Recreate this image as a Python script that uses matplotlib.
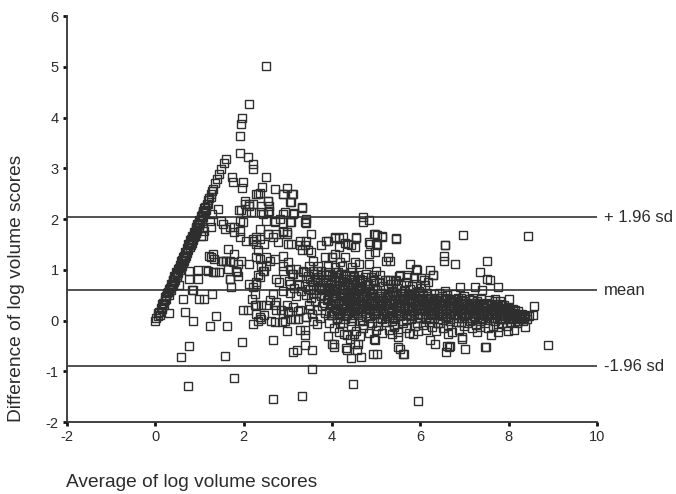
import matplotlib
matplotlib.use("Agg")
import matplotlib.pyplot as plt

# ---------------- data ----------------
# streak of points where one score is zero (difference ~ 2 x average)
streak_x = [0.00, 0.02, 0.05, 0.07, 0.09, 0.12, 0.14, 0.16, 0.18, 0.21, 0.23, 0.25, 0.27, 0.29,
            0.31, 0.33, 0.35, 0.37, 0.39, 0.41, 0.43, 0.45, 0.47, 0.49, 0.51, 0.53, 0.55, 0.57,
            0.59, 0.61, 0.63, 0.65, 0.67, 0.69, 0.71, 0.73, 0.75, 0.77, 0.79, 0.81, 0.83, 0.85,
            0.87, 0.89, 0.91, 0.93, 0.95, 0.97, 0.99, 1.01, 1.03, 1.05, 1.07, 1.09, 1.11, 1.13,
            1.16, 1.19, 1.22, 1.25, 1.28, 1.31, 1.35, 1.39, 1.44, 1.49, 1.55, 1.60,
            0.10, 0.20, 0.30, 0.35, 0.40, 0.45, 0.50, 0.55, 0.60, 0.65, 0.70, 0.75, 0.80, 0.85,
            0.90, 0.95, 1.00, 1.05, 1.15,
            0.15, 0.25, 0.32, 0.38, 0.42, 0.48, 0.52, 0.58, 0.62, 0.68, 0.72, 0.78, 0.82, 0.88,
            0.92, 0.98, 1.02, 1.08, 1.12, 1.20, 1.26]
streak_y = [0.00, 0.05, 0.08, 0.15, 0.16, 0.25, 0.26, 0.33, 0.35, 0.40, 0.47, 0.48, 0.55, 0.56,
            0.63, 0.64, 0.71, 0.72, 0.79, 0.80, 0.87, 0.88, 0.95, 0.96, 1.02, 1.03, 1.10, 1.12,
            1.18, 1.20, 1.26, 1.27, 1.34, 1.35, 1.42, 1.43, 1.50, 1.51, 1.58, 1.60, 1.66, 1.67,
            1.74, 1.75, 1.82, 1.84, 1.90, 1.91, 1.98, 1.99, 2.06, 2.07, 2.14, 2.15, 2.22, 2.23,
            2.30, 2.38, 2.42, 2.50, 2.56, 2.60, 2.70, 2.78, 2.88, 2.99, 3.10, 3.18,
            0.10, 0.30, 0.50, 0.60, 0.70, 0.80, 0.90, 1.00, 1.08, 1.18, 1.28, 1.38, 1.48, 1.58,
            1.70, 1.78, 1.88, 1.97, 2.18,
            0.22, 0.42, 0.56, 0.68, 0.75, 0.86, 0.94, 1.05, 1.14, 1.24, 1.33, 1.44, 1.52, 1.64,
            1.72, 1.84, 1.92, 2.04, 2.12, 2.30, 2.44]

# scattered points above the mean line (left / upper triangle)
upper_x = [1.75, 1.91, 1.94, 1.97, 2.11, 2.51, 1.92, 2.09, 2.21, 2.21, 2.51, 1.73, 1.98, 1.97,
           2.28, 2.36, 2.42, 2.56, 2.70, 2.97, 2.89, 3.10, 3.06, 3.31, 2.04, 2.13, 2.17, 1.89,
           1.41, 1.29, 1.23, 1.04, 1.11, 1.92, 2.43, 2.57, 2.89, 3.12, 3.42, 3.41, 2.70, 3.06,
           2.51, 2.02, 1.09, 2.32, 2.55, 2.57, 2.40, 2.89, 3.07, 3.12, 3.31, 2.40, 2.55, 2.93,
           3.15, 2.70, 2.82, 3.08, 3.38, 4.70, 4.70, 4.84]
upper_y = [2.72, 3.64, 3.87, 3.99, 4.26, 5.02, 3.30, 3.23, 3.08, 2.98, 2.83, 2.82, 2.72, 2.62,
           2.49, 2.51, 2.64, 2.36, 2.59, 2.61, 2.49, 2.49, 2.33, 2.22, 2.36, 2.30, 2.13, 2.17,
           2.20, 2.10, 1.97, 1.67, 1.77, 1.97, 2.10, 2.16, 2.10, 2.10, 2.00, 1.93, 1.94, 1.94,
           1.97, 2.30, 1.84, 2.49, 2.36, 2.26, 2.26, 2.49, 2.33, 2.49, 2.23, 2.13, 2.13, 2.13,
           2.11, 1.97, 2.00, 1.94, 1.94, 2.03, 1.94, 1.98]

# scattered points between about 0.6 and 1.9
mid_x = [1.49, 1.26, 1.07, 1.53, 1.57, 1.68, 1.79, 1.91, 2.06, 2.21, 1.98, 2.06, 2.13, 2.21,
         1.94, 1.64, 1.79, 1.30, 1.26, 1.33, 1.53, 1.60, 1.75, 1.87, 1.94, 2.13, 2.28, 0.77,
         0.96, 0.96, 0.77, 1.19, 1.34, 1.45, 1.68, 1.64, 1.83, 1.87, 0.54, 0.83, 1.15, 1.30,
         1.72, 1.68, 1.85, 2.21, 2.28, 2.11, 1.49, 1.60, 1.68, 1.21,
         2.36, 2.55, 2.66, 2.77, 2.89, 2.97, 3.00, 3.08, 2.28, 2.28, 2.47, 2.32, 2.36, 2.51,
         2.59, 2.40, 2.47, 2.32, 2.70, 2.89, 3.00, 2.89, 3.27, 3.42, 3.27, 3.38, 3.31, 3.46,
         3.53, 3.56, 3.76, 3.87, 4.06, 4.25, 4.36, 4.52, 4.55, 4.06, 3.99, 4.29, 4.17, 4.52,
         4.86, 4.94, 3.84, 3.68, 3.91, 4.06, 4.97, 5.14, 5.46, 6.96, 5.00, 4.97, 5.27, 5.31,
         5.23, 6.56, 6.54, 6.54, 6.78, 7.50, 7.35, 7.52, 5.76, 5.92, 6.23, 6.28, 6.18, 6.01,
         5.85, 5.70, 5.51, 5.00, 5.08, 4.93, 5.27, 5.46, 6.90, 7.24, 7.39, 6.56, 8.43, 7.58,
         7.75, 7.69, 8.00, 4.06, 4.15, 4.55, 5.01, 5.14, 5.46, 6.56, 4.84, 5.01, 4.29, 4.44,
         1.92, 1.77, 2.55, 2.74, 2.89, 2.97, 3.53, 3.91, 2.36, 2.21,
         2.43, 2.51, 2.28, 2.36, 2.74, 2.81, 2.89, 3.04, 3.12, 3.19, 3.34, 3.49, 2.89, 3.04,
         4.84, 4.61, 4.46, 4.23, 4.00, 4.15, 4.84, 5.55, 5.32, 5.70, 6.08, 6.29, 5.91, 8.58]
mid_y = [1.97, 1.84, 1.67, 1.90, 1.80, 1.84, 1.74, 1.64, 1.57, 1.57, 1.94, 2.13, 2.26, 2.29,
         2.17, 1.41, 1.31, 1.31, 1.25, 1.22, 1.18, 1.17, 1.15, 1.12, 1.18, 1.12, 1.25, 0.98,
         1.00, 0.82, 0.82, 0.98, 0.96, 0.95, 0.82, 1.02, 0.98, 0.88, 0.69, 0.61, 1.00, 0.95,
         0.66, 0.82, 0.95, 0.66, 0.75, 0.72, 1.17, 1.17, 1.17, 1.28,
         1.80, 1.71, 1.64, 1.54, 1.74, 1.71, 1.51, 1.51, 1.64, 1.51, 1.51, 1.38, 1.21, 1.25,
         1.18, 1.08, 0.98, 0.89, 1.21, 1.28, 1.15, 1.08, 1.57, 1.57, 1.48, 1.48, 1.38, 1.38,
         1.35, 1.18, 1.48, 1.57, 1.64, 1.64, 1.51, 1.44, 1.64, 1.31, 1.25, 1.25, 1.15, 1.15,
         1.51, 1.71, 1.25, 1.08, 1.08, 1.05, 1.71, 1.67, 1.62, 1.69, 1.51, 1.34, 1.25, 1.18,
         1.18, 1.49, 1.28, 1.18, 1.12, 1.17, 0.95, 0.82, 1.12, 1.00, 1.00, 0.90, 0.75, 0.83,
         0.83, 0.89, 0.87, 0.98, 0.89, 0.80, 0.80, 0.80, 0.66, 0.66, 0.61, 0.59, 1.67, 0.79,
         0.66, 0.43, 0.43, 1.63, 1.63, 1.63, 1.69, 1.65, 1.61, 1.48, 1.54, 1.48, 1.53, 1.49,
         1.77, 1.84, 1.71, 1.71, 1.77, 1.74, 1.71, 1.57, 1.61, 1.61,
         0.98, 1.08, 0.72, 0.85, 0.82, 0.75, 0.59, 0.72, 0.92, 1.02, 0.98, 1.08, 0.98, 1.02,
         1.12, 1.12, 1.05, 1.08, 1.25, 1.44, 1.31, 0.90, 0.80, 0.86, 0.80, 0.90, 1.02, 0.29]

# scattered points below the mean line and outliers
low_x = [0.62, 1.00, 1.11, 1.29, 0.32, 0.68, 0.86, 1.23, 1.38, 1.63, 0.77, 0.58, 1.57, 1.96,
         1.78, 0.74, 1.98, 2.10, 2.21, 2.25, 2.28, 2.19, 2.25, 2.66, 2.99, 3.12, 3.21, 3.38,
         3.55, 3.27, 3.39, 3.38, 3.55, 4.48, 4.05, 4.04, 3.91, 4.27, 4.35, 4.44, 4.65, 4.58,
         4.93, 4.57, 4.40, 4.49, 2.32, 2.40, 2.47, 2.72, 2.86, 3.00, 3.08, 3.17, 3.23, 3.40,
         3.56, 3.66, 2.59, 2.70, 2.85, 3.00, 2.40, 2.29, 2.66, 3.31, 2.66, 2.74, 2.97, 3.12,
         3.27, 3.42, 2.74, 2.89, 2.51, 2.36, 2.62, 2.93, 3.23, 5.95, 8.88, 7.48, 7.01, 6.60,
         6.57, 6.68, 5.63, 5.55, 5.35, 4.32, 4.00, 4.51, 4.94, 4.64, 6.22, 6.33, 6.95, 7.28,
         8.11, 7.98, 7.76, 7.61, 8.37, 8.41, 8.55, 7.81, 4.97, 5.01, 5.50, 5.61, 6.65, 7.47,
         6.94, 6.63, 5.50, 5.84, 0.85]
low_y = [0.43, 0.43, 0.43, 0.53, 0.14, 0.16, 0.00, -0.11, 0.08, -0.11, -0.51, -0.72, -0.69, -0.43,
         -1.14, -1.30, 0.21, 0.21, -0.07, 0.30, 0.12, 0.43, 0.53, -0.38, -0.21, -0.63, -0.59, -0.48,
         -0.59, -0.18, -0.18, -0.28, -0.95, -1.25, -0.46, -0.52, -0.30, -0.26, -0.58, -0.74, -0.72, -0.47,
         -0.66, -0.59, -0.36, -0.26, 0.00, 0.03, 0.10, -0.03, -0.03, 0.16, 0.03, 0.03, 0.18, 0.07,
         -0.01, -0.06, 0.41, 0.30, 0.20, 0.18, 0.31, 0.30, -1.54, -1.49, 0.53, 0.36, 0.30, 0.26,
         0.20, 0.07, 0.20, 0.13, 0.30, 0.07, 0.00, 0.00, 0.03, -1.59, -0.48, -0.52, -0.56, -0.51,
         -0.62, -0.51, -0.66, -0.57, -0.26, -0.54, -0.47, -0.46, -0.36, -0.31, -0.39, -0.46, -0.36, -0.22,
         -0.18, -0.20, -0.22, -0.29, -0.12, 0.08, 0.10, 0.39, -0.39, -0.66, -0.52, -0.66, -0.52, -0.52,
         -0.33, -0.26, -0.33, -0.26, 0.60]

# dense cloud, split in bands of the average score
band_a_x = [3.42, 3.45, 3.47, 3.50, 3.52, 3.55, 3.57, 3.60, 3.62, 3.64, 3.66, 3.68, 3.70, 3.72,
            3.74, 3.76, 3.78, 3.80, 3.82, 3.84, 3.86, 3.88, 3.90, 3.92, 3.94, 3.96, 3.98, 3.50,
            3.58, 3.66, 3.74, 3.82, 3.90, 3.98, 3.95]
band_a_y = [0.95, 0.62, 0.30, 0.81, 0.45, 0.12, 0.70, 0.92, 0.38, 0.55, 0.20, 0.85, 0.66, 0.05,
            0.48, 0.98, 0.28, 0.75, 0.60, 0.15, 0.90, 0.40, 0.52, 0.82, -0.05, 0.70, 0.33, 0.22,
            0.98, 0.80, 0.62, 0.35, 0.96, 0.10, 0.58]

band_b_x = [4.01, 4.02, 4.04, 4.05, 4.07, 4.08, 4.10, 4.11, 4.13, 4.14, 4.16, 4.18, 4.19, 4.21,
            4.22, 4.24, 4.26, 4.27, 4.29, 4.30, 4.32, 4.34, 4.35, 4.37, 4.38, 4.40, 4.42, 4.43,
            4.45, 4.46, 4.48, 4.50, 4.51, 4.53, 4.55, 4.56, 4.58, 4.60, 4.61, 4.63, 4.65, 4.66,
            4.68, 4.70, 4.71, 4.73, 4.75, 4.76, 4.78, 4.80, 4.81, 4.83, 4.85, 4.86, 4.88, 4.90,
            4.91, 4.93, 4.95, 4.96, 4.98, 4.99, 4.05, 4.12, 4.20, 4.28, 4.36, 4.44, 4.52, 4.60,
            4.68, 4.76, 4.84, 4.92, 4.15, 4.33, 4.47, 4.64, 4.79, 4.94]
band_b_y = [0.88, 0.45, -0.15, 0.65, 0.25, 0.95, 0.55, 0.05, 0.78, 0.35, -0.22, 0.68, 0.15, 0.92,
            0.48, -0.05, 0.82, 0.30, 0.60, 0.02, 0.88, 0.40, -0.28, 0.72, 0.20, 0.52, 0.95, -0.10,
            0.65, 0.32, 0.85, 0.10, 0.45, 0.75, -0.20, 0.58, 0.25, 0.90, 0.38, 0.00, 0.68, 0.18,
            0.80, 0.50, -0.15, 0.30, 0.62, 0.92, 0.08, 0.42, 0.72, -0.25, 0.55, 0.22, 0.85, 0.35,
            -0.05, 0.65, 0.15, 0.78, 0.45, -0.18, 0.15, 0.62, 0.38, 0.75, 0.55, 0.18, 0.28, 0.60,
            0.35, 0.48, 0.05, 0.52, 0.85, 0.10, 0.70, 0.82, 0.25, 0.90]

band_c_x = [5.01, 5.03, 5.04, 5.06, 5.08, 5.09, 5.11, 5.13, 5.14, 5.16, 5.18, 5.19, 5.21, 5.23,
            5.24, 5.26, 5.28, 5.29, 5.31, 5.33, 5.35, 5.36, 5.38, 5.40, 5.41, 5.43, 5.45, 5.46,
            5.48, 5.50, 5.51, 5.53, 5.55, 5.56, 5.58, 5.60, 5.62, 5.63, 5.65, 5.67, 5.68, 5.70,
            5.72, 5.73, 5.75, 5.77, 5.78, 5.80, 5.82, 5.83, 5.85, 5.87, 5.88, 5.90, 5.92, 5.93,
            5.95, 5.97, 5.98, 6.00, 6.02, 6.03, 6.05, 6.07, 6.08, 6.10, 6.12, 6.13, 6.15, 6.17,
            6.18, 6.20, 5.10, 5.25, 5.39, 5.52, 5.66, 5.79, 5.94, 6.06]
band_c_y = [0.60, 0.20, -0.10, 0.75, 0.40, 0.05, 0.55, 0.28, -0.25, 0.68, 0.12, 0.45, 0.80, -0.02,
            0.35, 0.62, 0.18, -0.18, 0.50, 0.72, 0.25, 0.00, 0.58, 0.38, -0.12, 0.78, 0.15, 0.48,
            0.65, -0.22, 0.30, 0.55, 0.08, 0.70, 0.42, -0.05, 0.22, 0.60, 0.35, -0.15, 0.75, 0.10,
            0.50, 0.28, -0.25, 0.62, 0.40, 0.02, 0.68, 0.18, 0.52, -0.10, 0.33, 0.72, 0.12, 0.45,
            -0.20, 0.58, 0.25, 0.05, 0.65, 0.38, -0.08, 0.50, 0.20, 0.70, -0.18, 0.30, 0.55, 0.10,
            0.42, -0.02, 0.32, 0.48, 0.10, 0.40, 0.58, 0.28, 0.30, 0.32]

band_d_x = [6.22, 6.24, 6.26, 6.28, 6.30, 6.32, 6.34, 6.36, 6.38, 6.40, 6.42, 6.44, 6.46, 6.48,
            6.50, 6.52, 6.54, 6.56, 6.58, 6.60, 6.62, 6.64, 6.66, 6.68, 6.70, 6.72, 6.74, 6.76,
            6.78, 6.80, 6.82, 6.84, 6.86, 6.88, 6.90, 6.92, 6.94, 6.96, 6.98, 7.00, 7.02, 7.04,
            7.06, 7.08, 7.10, 7.12, 7.14, 7.16, 7.18, 7.20, 7.22, 7.24, 7.26, 7.28, 7.30, 7.32,
            7.34, 7.36, 7.38, 7.40, 7.42, 7.44, 7.46, 7.48, 7.50, 7.52, 7.54, 7.56, 7.58, 6.35,
            6.65, 6.95, 7.25]
band_d_y = [0.45, 0.15, -0.12, 0.32, 0.52, 0.05, 0.25, -0.20, 0.40, 0.12, 0.55, -0.05, 0.30, 0.18,
            0.48, -0.15, 0.35, 0.08, 0.22, 0.50, -0.08, 0.28, 0.42, 0.02, 0.15, -0.22, 0.38, 0.25,
            0.52, -0.02, 0.32, 0.10, 0.45, -0.18, 0.20, 0.38, 0.05, 0.28, -0.10, 0.48, 0.15, 0.35,
            -0.05, 0.22, 0.42, 0.00, 0.30, -0.15, 0.18, 0.45, 0.08, 0.25, -0.08, 0.38, 0.12, 0.32,
            -0.12, 0.20, 0.42, 0.02, 0.28, 0.15, -0.05, 0.35, 0.10, 0.25, -0.15, 0.40, 0.18, 0.38,
            0.18, 0.40, 0.15]

band_e_x = [7.60, 7.62, 7.64, 7.66, 7.68, 7.70, 7.72, 7.74, 7.76, 7.78, 7.80, 7.82, 7.84, 7.86,
            7.88, 7.90, 7.92, 7.94, 7.96, 7.98, 8.00, 8.03, 8.06, 8.09, 8.12, 8.15, 8.18, 8.21,
            8.24, 8.27, 8.30, 8.34, 8.38, 8.42, 8.46]
band_e_y = [0.05, 0.30, -0.10, 0.20, 0.38, 0.00, 0.15, 0.28, -0.12, 0.10, 0.32, 0.05, 0.22, -0.05,
            0.15, 0.30, 0.02, 0.18, -0.10, 0.25, 0.08, 0.15, -0.02, 0.22, 0.05, 0.12, -0.05, 0.18,
            0.08, 0.02, 0.12, 0.05, 0.10, 0.02, 0.08]

# the darkest core of the cloud
core_1_x = [3.91, 3.93, 3.95, 3.97, 3.99, 4.01, 4.03, 4.06, 4.08, 4.10, 4.12, 4.14, 4.17, 4.19,
            4.21, 4.23, 4.25, 4.28, 4.30, 4.32, 4.34, 4.36, 4.39, 4.41, 4.43, 4.45, 4.47, 4.50,
            4.52, 4.54, 4.56, 4.58, 4.61, 4.63, 4.65, 4.67, 4.69, 4.72, 4.74, 4.76, 4.78, 4.80,
            4.83, 4.85, 4.87, 4.89, 4.91, 4.94, 4.96, 4.98]
core_1_y = [0.42, 0.18, 0.62, 0.30, 0.50, 0.10, 0.38, 0.58, 0.22, 0.45, 0.02, 0.32, 0.52, 0.12,
            0.40, 0.65, 0.25, 0.48, 0.08, 0.35, 0.55, 0.15, 0.42, 0.28, 0.60, 0.05, 0.38, 0.50,
            0.18, 0.30, 0.62, 0.10, 0.45, 0.22, 0.55, 0.35, 0.00, 0.48, 0.15, 0.28, 0.58, 0.38,
            0.20, 0.45, 0.08, 0.32, 0.52, 0.25, 0.40, 0.12]

core_2_x = [5.02, 5.04, 5.06, 5.09, 5.11, 5.13, 5.15, 5.17, 5.20, 5.22, 5.24, 5.26, 5.28, 5.31,
            5.33, 5.35, 5.37, 5.39, 5.42, 5.44, 5.46, 5.48, 5.50, 5.53, 5.55, 5.57, 5.59, 5.61,
            5.64, 5.66, 5.68, 5.70, 5.72, 5.75, 5.77, 5.79, 5.81, 5.83, 5.86, 5.88, 5.90, 5.92,
            5.94, 5.97, 5.99, 6.01, 6.03, 6.05, 6.08, 6.10, 6.12, 6.14, 6.16, 6.18, 6.19]
core_2_y = [0.35, 0.12, 0.48, 0.25, 0.55, 0.02, 0.38, 0.18, 0.45, 0.30, 0.08, 0.52, 0.22, 0.40,
            0.15, 0.58, 0.32, 0.05, 0.42, 0.20, 0.50, 0.28, 0.10, 0.45, 0.35, 0.18, 0.55, 0.00,
            0.30, 0.48, 0.12, 0.38, 0.25, 0.52, 0.08, 0.42, 0.20, 0.35, 0.15, 0.48, 0.28, 0.05,
            0.40, 0.22, 0.55, 0.32, 0.12, 0.45, 0.25, 0.38, 0.02, 0.30, 0.48, 0.18, 0.35]

core_3_x = [6.21, 6.23, 6.25, 6.28, 6.30, 6.32, 6.34, 6.37, 6.39, 6.41, 6.43, 6.46, 6.48, 6.50,
            6.52, 6.55, 6.57, 6.59, 6.61, 6.64, 6.66, 6.68, 6.70, 6.73, 6.75, 6.77, 6.79, 6.82,
            6.84, 6.86, 6.88, 6.91, 6.93, 6.95, 6.97, 7.00, 7.02, 7.04, 7.06, 7.09, 7.11, 7.13,
            7.15, 7.18, 7.20, 7.22, 7.24, 7.27, 7.29, 7.31, 7.33, 7.36, 7.38, 7.40, 7.43]
core_3_y = [0.28, 0.05, 0.38, 0.18, 0.42, 0.10, 0.32, 0.22, 0.45, 0.02, 0.35, 0.15, 0.25, 0.40,
            0.08, 0.30, 0.20, 0.45, 0.12, 0.35, 0.25, 0.00, 0.40, 0.18, 0.30, 0.10, 0.42, 0.22,
            0.35, 0.05, 0.28, 0.15, 0.45, 0.22, 0.32, 0.08, 0.38, 0.20, 0.28, 0.12, 0.35, 0.05,
            0.25, 0.40, 0.15, 0.30, 0.02, 0.22, 0.35, 0.10, 0.28, 0.18, 0.05, 0.30, 0.20]

core_4_x = [7.45, 7.48, 7.51, 7.54, 7.57, 7.60, 7.63, 7.66, 7.69, 7.72, 7.75, 7.78, 7.81, 7.84,
            7.87, 7.90, 7.93, 7.96, 7.99, 8.02, 8.05, 8.08, 8.11, 8.14, 8.17, 8.20, 8.23, 8.26,
            8.29, 8.32, 8.35, 7.70, 7.85, 8.00, 8.15]
core_4_y = [0.25, 0.08, 0.32, 0.15, 0.22, 0.12, 0.20, 0.05, 0.28, 0.10, 0.18, 0.25, 0.02, 0.15,
            0.22, 0.08, 0.18, 0.12, 0.05, 0.20, 0.10, 0.02, 0.15, 0.08, 0.12, 0.00, 0.10, 0.05,
            0.08, 0.00, 0.06, 0.32, 0.30, 0.25, 0.20]

core_5_x = [3.02, 3.06, 3.10, 3.14, 3.18, 3.22, 3.26, 3.30, 3.34, 3.38, 3.42, 3.46, 3.50, 3.54,
            3.58, 3.62, 3.66, 3.70, 3.74, 3.78, 3.82, 3.86, 3.90, 3.94, 3.98, 4.02, 4.06, 4.10,
            4.14, 4.18, 4.22, 4.26, 4.30, 4.34, 4.38, 4.42, 4.46, 4.50, 4.56, 4.62, 4.68, 4.74,
            4.80, 4.86, 4.92]
core_5_y = [0.78, 0.55, 0.92, 0.65, 0.48, 0.85, 0.72, 0.58, 0.95, 0.68, 0.50, 0.88, 0.62, 0.75,
            0.52, 0.82, 0.98, 0.60, 0.90, 0.70, 0.50, 0.80, 0.65, 0.92, 0.75, 0.58, 0.85, 0.70,
            0.95, 0.55, 0.78, 0.62, 0.90, 0.68, 0.82, 0.56, 0.72, 0.88, 0.66, 0.78, 0.58, 0.85,
            0.70, 0.62, 0.80]

core_6_x = [4.11, 4.18, 4.24, 4.31, 4.37, 4.44, 4.50, 4.57, 4.63, 4.70, 4.76, 4.83, 4.89, 4.96,
            5.02, 5.09, 5.15, 5.22, 5.28, 5.35, 5.41, 5.48, 5.54, 5.61, 5.67, 5.74, 5.80, 5.87,
            5.93, 6.00, 6.06, 6.13, 6.19, 6.26, 6.32, 6.39, 6.45, 6.52, 6.58, 6.65, 6.71, 6.78,
            6.84, 6.91, 6.97, 7.04, 7.10, 7.17, 7.23, 7.30, 7.36, 7.43, 7.49, 7.56, 7.62, 7.69,
            7.75, 7.82, 7.88, 7.95]
core_6_y = [0.20, -0.05, 0.32, 0.10, 0.42, 0.00, 0.25, 0.15, 0.38, -0.08, 0.28, 0.08, 0.45, 0.18,
            -0.02, 0.30, 0.12, 0.40, 0.05, 0.22, -0.08, 0.35, 0.15, 0.42, 0.02, 0.26, 0.10, 0.38,
            -0.05, 0.20, 0.32, 0.06, 0.42, 0.14, 0.25, -0.05, 0.35, 0.18, 0.05, 0.28, 0.38, 0.10,
            0.20, -0.02, 0.32, 0.15, 0.25, 0.05, 0.35, 0.20, 0.00, 0.12, 0.30, 0.05, 0.22, 0.10,
            0.28, 0.15, 0.02, 0.18]

# reference lines
ref_values = [2.03, 0.60, -0.90]
ref_labels = ["+ 1.96 sd", "mean", "-1.96 sd"]

x_ticks = [-2, 0, 2, 4, 6, 8, 10]
y_ticks = [-2, -1, 0, 1, 2, 3, 4, 5, 6]
x_title = "Average of log volume scores"
y_title = "Difference of log volume scores"

# ---------------- drawing ----------------
plt.rcParams["font.family"] = ["Liberation Sans", "DejaVu Sans"]
ink = "#2b2b2b"

fig = plt.figure(figsize=(6.76, 4.94), dpi=100)
ax = fig.add_axes([67 / 676, 72 / 494, 530 / 676, 406 / 494])

groups = [(streak_x, streak_y), (upper_x, upper_y), (mid_x, mid_y), (low_x, low_y),
          (band_a_x, band_a_y), (band_b_x, band_b_y), (band_c_x, band_c_y),
          (band_d_x, band_d_y), (band_e_x, band_e_y),
          (core_1_x, core_1_y), (core_2_x, core_2_y), (core_3_x, core_3_y),
          (core_4_x, core_4_y), (core_5_x, core_5_y), (core_6_x, core_6_y)]
for gx, gy in groups:
    ax.plot(gx, gy, linestyle="none", marker="s", markersize=5.4,
            markerfacecolor="none", markeredgecolor="#2e2e2e", markeredgewidth=1.0,
            clip_on=False, zorder=3)

for v, lab in zip(ref_values, ref_labels):
    ax.axhline(v, color="#333333", linewidth=1.2, zorder=2)
    ax.annotate(lab, xy=(1.0, v), xycoords=("axes fraction", "data"),
                xytext=(5, 0), textcoords="offset points",
                ha="left", va="center", fontsize=12, color=ink, annotation_clip=False)

ax.set_xlim(-2, 10)
ax.set_ylim(-2, 6)
ax.set_xticks(x_ticks)
ax.set_yticks(y_ticks)
ax.set_xticklabels([str(t) for t in x_ticks])
ax.set_yticklabels([str(t) for t in y_ticks])
for side in ("top", "right"):
    ax.spines[side].set_visible(False)
for side in ("left", "bottom"):
    ax.spines[side].set_color("#333333")
    ax.spines[side].set_linewidth(1.3)
ax.tick_params(axis="both", direction="out", length=3, width=2.0, color="#111111",
               labelsize=10.5, labelcolor=ink, pad=3)

fig.text(66 / 676, (494 - 482) / 494, x_title, ha="left", va="center",
         fontsize=13.8, color=ink)
fig.text(17 / 676, 72 / 494, y_title, ha="center", va="bottom", rotation=90,
         fontsize=13.8, color=ink)

fig.savefig("out.png", dpi=100)
